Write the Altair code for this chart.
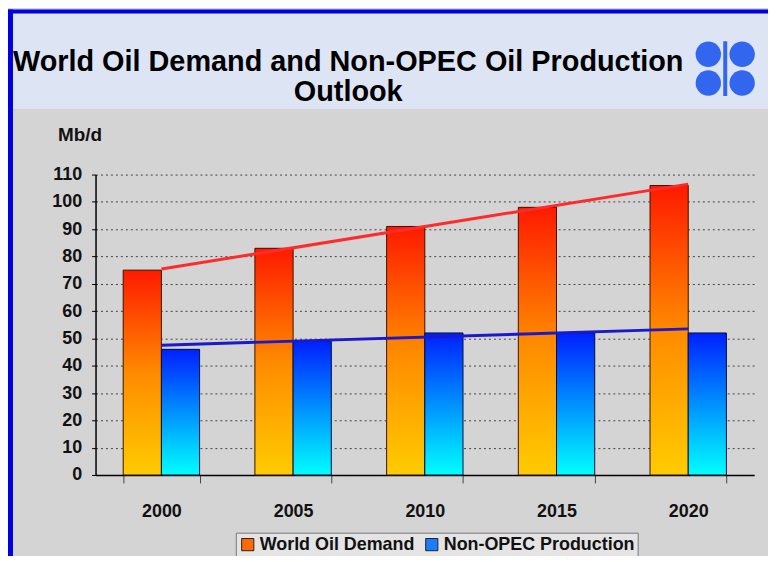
import altair as alt
import pandas as pd

# ---- data ----
years = ["2000", "2005", "2010", "2015", "2020"]
world_oil_demand = [75, 83, 91, 98, 106]
non_opec_production = [46, 49, 52, 52, 52]
series_names = ["World Oil Demand", "Non-OPEC Production"]
trend_years = ["2000", "2020"]
demand_trend = [75.4, 106.5]
non_opec_trend = [47.5, 53.5]
y_ticks = [0, 10, 20, 30, 40, 50, 60, 70, 80, 90, 100, 110]
title_lines = ["World Oil Demand and Non-OPEC Oil Production", "Outlook"]

FONT = "Liberation Sans"
W, H = 662, 302

bars = pd.DataFrame({
    "year": years * 2,
    "series": [series_names[0]] * len(years) + [series_names[1]] * len(years),
    "value": world_oil_demand + non_opec_production,
})
trend = pd.DataFrame({
    "year": trend_years * 2,
    "series": [series_names[0]] * 2 + [series_names[1]] * 2,
    "value": demand_trend + non_opec_trend,
})
one = pd.DataFrame({"k": [0]})

x_scale = alt.Scale(domain=years, paddingInner=0.42, paddingOuter=0.21)
y_scale = alt.Scale(domain=[0, 110], nice=False, zero=True)
off_scale = alt.Scale(domain=series_names)

x_axis = alt.Axis(title=None, labelAngle=0, tickBand="extent", domainColor="black",
                  domainWidth=1.5, tickColor="#444", tickSize=8, labelPadding=20,
                  labelFont=FONT, labelFontSize=18, labelFontWeight="bold",
                  labelColor="#111", grid=False)
y_axis = alt.Axis(values=y_ticks, grid=True, gridDash=[2, 3], gridColor="#444",
                  gridWidth=1, domainColor="black", domainWidth=1.5, tickColor="black",
                  tickSize=4, labelPadding=10, labelFont=FONT, labelFontSize=18,
                  labelFontWeight="bold", labelColor="#111",
                  title="Mb/d", titleAngle=0, titleX=-16, titleY=-40, titleAlign="center",
                  titleBaseline="middle", titleFont=FONT, titleFontSize=19,
                  titleFontWeight="bold", titleColor="#111")

X = alt.X("year:N", scale=x_scale, axis=x_axis)
XO = alt.XOffset("series:N", scale=off_scale)
Y = alt.Y("value:Q", scale=y_scale, axis=y_axis)

grad_red = alt.Gradient(gradient="linear", x1=0, x2=0, y1=1, y2=0, stops=[
    alt.GradientStop(color="#ffcc00", offset=0),
    alt.GradientStop(color="#ff8a00", offset=0.5),
    alt.GradientStop(color="#ff1a00", offset=1)])
grad_blue = alt.Gradient(gradient="linear", x1=0, x2=0, y1=1, y2=0, stops=[
    alt.GradientStop(color="#00ffff", offset=0),
    alt.GradientStop(color="#0090ff", offset=0.5),
    alt.GradientStop(color="#0020ff", offset=1)])

# decorative panels (outside the plot area)
def panel(color, x, x2, y, y2):
    return alt.Chart(one).mark_rect(color=color).encode(
        x=alt.value(x), x2=alt.value(x2), y=alt.value(y), y2=alt.value(y2))

title_panel = panel("#dde5f5", -83, 700, -162, -66)
blue_left = panel("#0000e0", -88, -83, -166, 400)
blue_top = panel("#0000e0", -88, 700, -166, -162)

def blob(x, y):
    return alt.Chart(one).mark_point(filled=True, shape="circle", size=650,
                                     color="#3366ee", opacity=1).encode(
        x=alt.value(x), y=alt.value(y))

logo = [blob(616, -121), blob(650, -121), blob(616, -92), blob(650, -92),
        alt.Chart(one).mark_rule(color="#3366ee", strokeWidth=4).encode(
            x=alt.value(633), y=alt.value(-134), y2=alt.value(-79))]

legend = alt.Legend(title=None, orient="none", legendX=141, legendY=360,
                    direction="horizontal", symbolType="square", symbolSize=150,
                    symbolStrokeColor="#222", symbolStrokeWidth=1,
                    labelFont=FONT, labelFontSize=18, labelFontWeight="bold",
                    labelColor="#111", strokeColor="#777", fillColor="#e4e4e4",
                    padding=3, columnPadding=8, labelOffset=3, labelLimit=300)

legend_bars = alt.Chart(bars).mark_bar().encode(
    x=X, xOffset=XO, y=Y,
    color=alt.Color("series:N", scale=alt.Scale(domain=series_names,
                                               range=["#ff6a00", "#1a7cff"]),
                    legend=legend))

demand_bars = alt.Chart(bars).transform_filter(
    alt.datum.series == series_names[0]).mark_bar(
    fill=grad_red, stroke="#3a1500", strokeWidth=1).encode(x=X, xOffset=XO, y=Y)
nonopec_bars = alt.Chart(bars).transform_filter(
    alt.datum.series == series_names[1]).mark_bar(
    fill=grad_blue, stroke="#001040", strokeWidth=1).encode(x=X, xOffset=XO, y=Y)

demand_line = alt.Chart(trend).transform_filter(
    alt.datum.series == series_names[0]).mark_line(
    color="#ff2a2a", strokeWidth=3).encode(x=X, y=Y)
nonopec_line = alt.Chart(trend).transform_filter(
    alt.datum.series == series_names[1]).mark_line(
    color="#1a1acc", strokeWidth=3).encode(x=X, y=Y)

chart = alt.layer(
    title_panel, blue_left, blue_top, *logo,
    legend_bars, demand_bars, nonopec_bars, demand_line, nonopec_line,
).properties(
    width=W, height=H,
    autosize=alt.AutoSizeParams(type="none"),
    padding={"left": 88, "top": 166, "right": 14, "bottom": 80},
    background="#d4d4d4",
    title=alt.TitleParams(text=title_lines, font=FONT, fontSize=29, fontWeight="bold",
                          color="black", anchor="middle", frame="group", dx=-77,
                          offset=-98, lineHeight=30),
).configure_view(stroke=None)

chart.save("out.html", embed_options={"renderer": "svg", "actions": False})
